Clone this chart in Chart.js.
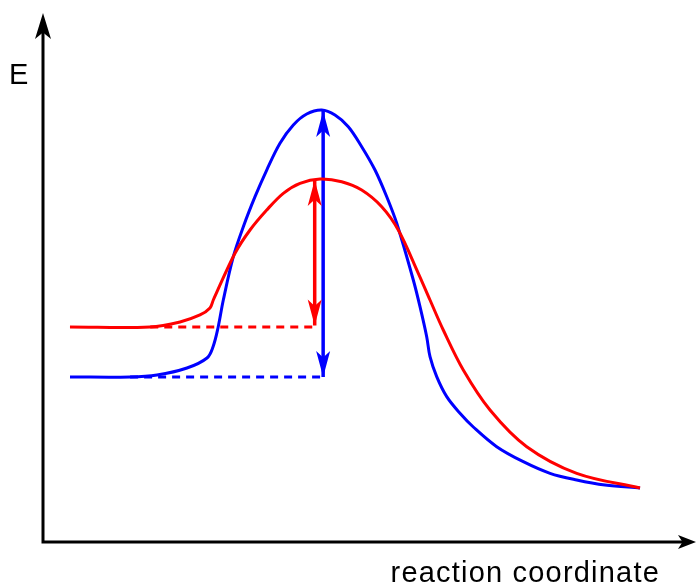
<!DOCTYPE html>
<html>
<head>
<meta charset="utf-8">
<script src="https://cdn.jsdelivr.net/npm/chart.js@4.4.0/dist/chart.umd.min.js"></script>
<style>
  html, body { margin: 0; padding: 0; background: #fff; }
  #wrap { width: 696px; height: 586px; }
</style>
</head>
<body>
<div id="wrap"><canvas id="graph"></canvas></div>
<script>
//Reaction coordinate (0-100) and energy (0-100)
const blueX = [4.15, 13.38, 17.54, 22.15, 25.23, 26.15, 26.92, 27.74, 29.28, 30.82, 32.62, 34.42, 36.46, 38.51, 40.57, 42.88, 44.92, 46.97, 49.03, 51.08, 52.88, 54.42, 56.97, 58.0, 59.03, 59.54, 60.57, 62.11, 64.15, 66.2, 69.8, 73.89, 78.0, 82.11, 86.46, 91.85];
const blueE = [31.61, 31.61, 31.99, 33.33, 35.25, 37.36, 41.0, 46.36, 54.66, 60.4, 66.15, 71.26, 76.38, 79.89, 81.99, 82.76, 81.8, 79.56, 75.73, 71.26, 66.15, 61.05, 50.19, 45.08, 39.33, 35.5, 31.67, 27.84, 24.66, 22.03, 18.26, 15.38, 13.16, 11.88, 10.92, 10.34];

const redX = [4.15, 16.46, 21.08, 24.15, 25.69, 26.2, 29.54, 31.85, 34.42, 36.97, 39.54, 42.62, 45.95, 49.03, 52.11, 54.66, 57.74, 59.54, 61.58, 64.66, 68.77, 74.42, 82.11, 91.85];
const redE = [41.19, 41.19, 42.15, 43.49, 44.83, 46.36, 55.31, 59.77, 63.6, 66.8, 68.72, 69.54, 69.02, 67.43, 64.23, 59.77, 51.48, 46.36, 40.61, 32.95, 25.29, 18.26, 13.16, 10.34];

//Dashed reference levels and activation-energy arrows
const blueLevelX = [13.4, 43.1];
const redLevelX = [16.5, 42.0];
const blueArrowX = 43.1;
const redArrowX = 41.8;

const xTitle = "reaction coordinate";
const yTitle = "E";

const toPoints = (xs, ys) => xs.map((x, i) => ({ x, y: ys[i] }));
const startLevel = arr => arr[0];
const peak = arr => Math.max(...arr);

//Draw a notched arrowhead with the tip at (x, y) pointing to angle a
const arrowHead = (ctx, x, y, a, len, half, color) => {
  ctx.save();
  ctx.translate(x, y);
  ctx.rotate(a);
  ctx.fillStyle = color;
  ctx.beginPath();
  ctx.moveTo(0, 0);
  ctx.lineTo(-len, -half);
  ctx.lineTo(-len * 0.75, 0);
  ctx.lineTo(-len, half);
  ctx.closePath();
  ctx.fill();
  ctx.restore();
};

const arrowPlugin = {
  id: "arrows",
  afterDatasetsDraw(chart) {
    const ctx = chart.ctx;
    const area = chart.chartArea;
    //axes
    ctx.save();
    ctx.strokeStyle = "#000";
    ctx.lineWidth = 3;
    ctx.beginPath();
    ctx.moveTo(area.left, area.bottom);
    ctx.lineTo(area.left, 30);
    ctx.moveTo(area.left - 1.5, area.bottom);
    ctx.lineTo(684, area.bottom);
    ctx.stroke();
    ctx.restore();
    arrowHead(ctx, area.left, 13, -Math.PI / 2, 26, 8, "#000");
    arrowHead(ctx, 696, area.bottom, 0, 18, 7, "#000");

    //double headed arrows on flagged datasets
    chart.data.datasets.forEach((ds, i) => {
      if (!ds.arrows) return;
      const pts = chart.getDatasetMeta(i).data;
      const p0 = pts[0], p1 = pts[pts.length - 1];
      const a = Math.atan2(p1.y - p0.y, p1.x - p0.x);
      arrowHead(ctx, p1.x, p1.y, a, 26, 7, ds.borderColor);
      arrowHead(ctx, p0.x, p0.y, a + Math.PI, 26, 7, ds.borderColor);
    });

    //labels
    ctx.save();
    ctx.fillStyle = "#000";
    ctx.font = "29px 'Liberation Sans', Arial, sans-serif";
    ctx.textBaseline = "alphabetic";
    ctx.textAlign = "left";
    ctx.fillText(yTitle, 9, 84);
    ctx.letterSpacing = "1.2px";
    ctx.textAlign = "right";
    ctx.fillText(xTitle, 660, 582);
    ctx.restore();
  },
};

const line = (data, color, extra) =>
  Object.assign(
    {
      data,
      borderColor: color,
      borderWidth: 3,
      pointRadius: 0,
      fill: false,
      tension: 0.35,
    },
    extra || {}
  );

new Chart(document.getElementById("graph"), {
  type: "line",
  data: {
    datasets: [
      line(toPoints(redLevelX, [startLevel(redE), startLevel(redE)]), "#ff0000", { borderDash: [8, 6], tension: 0 }),
      line(toPoints(blueLevelX, [startLevel(blueE), startLevel(blueE)]), "#0000ff", { borderDash: [8, 6], tension: 0 }),
      line(toPoints(redX, redE), "#ff0000"),
      line(toPoints(blueX, blueE), "#0000ff"),
      line(toPoints([redArrowX, redArrowX], [startLevel(redE) + 0.3, peak(redE) - 0.2]), "#ff0000", { arrows: true, borderWidth: 3.5, tension: 0 }),
      line(toPoints([blueArrowX, blueArrowX], [startLevel(blueE), peak(blueE) - 0.2]), "#0000ff", { arrows: true, borderWidth: 3.5, tension: 0 }),
    ],
  },
  options: {
    responsive: true,
    maintainAspectRatio: false,
    animation: false,
    layout: { padding: { left: 43, top: 20, right: 3, bottom: 44 } },
    plugins: { legend: { display: false }, tooltip: { enabled: false } },
    scales: {
      x: { type: "linear", min: 0, max: 100, display: false },
      y: { type: "linear", min: 0, max: 100, display: false },
    },
  },
  plugins: [arrowPlugin],
});
</script>
</body>
</html>
